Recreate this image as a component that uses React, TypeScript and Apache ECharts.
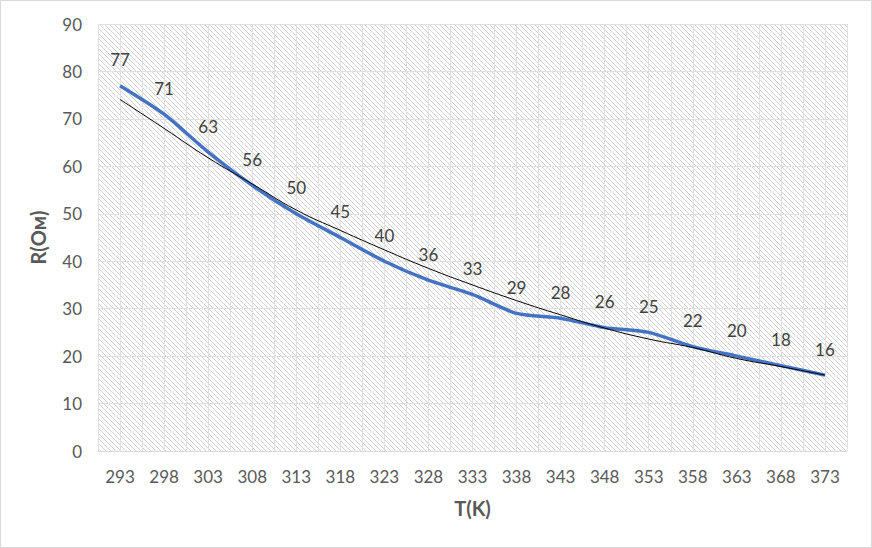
import React, { useEffect, useRef } from "react";
import * as echarts from "echarts";

const temperatures = ["293", "298", "303", "308", "313", "318", "323", "328", "333", "338", "343", "348", "353", "358", "363", "368", "373"];
const resistance = [77, 71, 63, 56, 50, 45, 40, 36, 33, 29, 28, 26, 25, 22, 20, 18, 16];
const trendValues = [74.1, 68.0, 61.8, 56.3, 50.8, 46.5, 42.4, 38.5, 35.0, 31.7, 28.7, 25.9, 23.6, 21.8, 19.5, 17.8, 16.0];
const halfSteps = temperatures.flatMap((t) => [t + "a", t + "b"]);

function makeHatch(): HTMLCanvasElement {
  const n = 5;
  const c = document.createElement("canvas");
  c.width = n;
  c.height = n;
  const ctx = c.getContext("2d")!;
  ctx.fillStyle = "#ffffff";
  ctx.fillRect(0, 0, n, n);
  ctx.fillStyle = "#d2d2d2";
  for (let i = 0; i < n; i++) ctx.fillRect(i, i, 1, 1);
  return c;
}

export default function App() {
  const ref = useRef<HTMLDivElement>(null);
  useEffect(() => {
    document.body.style.margin = "0";
    const chart = echarts.init(ref.current!, null, { renderer: "svg" });
    const font = "Lato, 'Open Sans', sans-serif";
    chart.setOption({
      animation: false,
      backgroundColor: "#ffffff",
      textStyle: { fontFamily: font },
      graphic: [
        {
          type: "rect",
          shape: { x: 0.5, y: 0.5, width: 871, height: 547 },
          style: { fill: "none", stroke: "#d9d9d9", lineWidth: 1 },
          silent: true,
        },
      ],
      grid: {
        left: 98,
        top: 24,
        right: 25,
        bottom: 97,
        show: true,
        borderWidth: 0,
        backgroundColor: { image: makeHatch(), repeat: "repeat" },
      },
      xAxis: [
        {
          type: "category",
          data: temperatures,
          boundaryGap: true,
          name: "T(K)",
          nameLocation: "middle",
          nameGap: 47,
          nameTextStyle: { fontSize: 20, fontWeight: "bold", color: "#595959", fontFamily: font },
          axisLine: { show: true, lineStyle: { color: "#d9d9d9", width: 1 } },
          axisTick: { show: false },
          axisLabel: { color: "#595959", fontSize: 17, margin: 17, fontFamily: font },
          splitLine: { show: false },
        },
        {
          type: "category",
          data: halfSteps,
          boundaryGap: true,
          position: "bottom",
          axisLine: { show: false },
          axisTick: { show: false },
          axisLabel: { show: false },
          splitLine: { show: true, interval: 0, lineStyle: { color: "#e0e0e0", width: 1 } },
        },
      ],
      yAxis: {
        type: "value",
        min: 0,
        max: 90,
        interval: 10,
        name: "R(Ом)",
        nameLocation: "middle",
        nameGap: 50,
        nameTextStyle: { fontSize: 20, fontWeight: "bold", color: "#595959", fontFamily: font },
        axisLine: { show: false },
        axisTick: { show: false },
        axisLabel: { color: "#595959", fontSize: 17, margin: 16, fontFamily: font },
        splitLine: { show: true, lineStyle: { color: "#e0e0e0", width: 1 } },
      },
      series: [
        {
          type: "line",
          data: resistance,
          xAxisIndex: 0,
          smooth: 0.25,
          symbol: "circle",
          symbolSize: 1,
          showSymbol: true,
          itemStyle: { color: "rgba(0,0,0,0)" },
          lineStyle: { color: "#4472C4", width: 3.5 },
          label: {
            show: true,
            position: "top",
            distance: 17,
            color: "#404040",
            fontSize: 17,
            fontFamily: font,
          },
          z: 2,
        },
        {
          type: "line",
          data: trendValues,
          xAxisIndex: 0,
          smooth: true,
          symbol: "none",
          lineStyle: { color: "#000000", width: 1 },
          z: 3,
        },
      ],
    });
    return () => chart.dispose();
  }, []);
  return <div ref={ref} style={{ position: "absolute", left: 0, top: 0, width: 872, height: 548 }} />;
}
